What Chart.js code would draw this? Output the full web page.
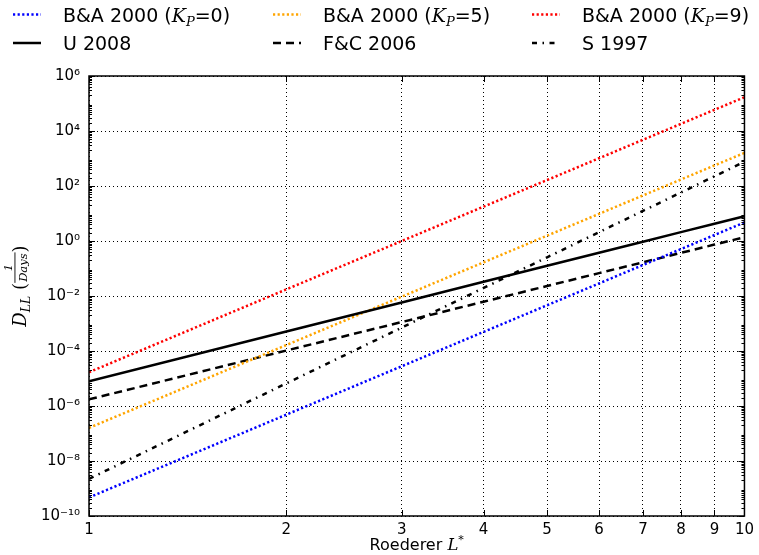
<!DOCTYPE html>
<html>
<head>
<meta charset="utf-8">
<script src="https://cdn.jsdelivr.net/npm/chart.js@4/dist/chart.umd.min.js"></script>
<style>
  html, body { margin: 0; padding: 0; background: #fff; }
  canvas { display: block; }
</style>
</head>
<body>
<canvas id="dll" width="759" height="555"></canvas>
<script>
// Roederer L* values where each curve was read
const lValues = [1, 2, 3, 4, 5, 6, 7, 8, 9, 10];

// D_LL (1/days)
const baKp0 = [4.73e-10, 4.84e-7, 2.79e-5, 4.96e-4, 4.62e-3, 2.86e-2, 0.134, 0.508, 1.65, 4.73];
const baKp5 = [1.60e-7, 1.64e-4, 9.47e-3, 0.168, 1.57, 9.69, 45.3, 172, 559, 1600];
const baKp9 = [1.69e-5, 1.74e-2, 1.00, 17.8, 165, 1020, 4790, 1.82e4, 5.91e4, 1.69e5];
const u2008 = [8.0e-6, 5.12e-4, 5.83e-3, 3.28e-2, 0.125, 0.373, 0.941, 2.10, 4.25, 8.0];
const fc2006 = [1.74e-6, 1.04e-4, 1.13e-3, 6.19e-3, 2.31e-2, 6.78e-2, 0.168, 0.370, 0.741, 1.38];
const s1997 = [2.24e-9, 6.62e-6, 7.10e-4, 1.96e-2, 0.256, 2.10, 12.4, 57.9, 225, 759];

const seriesLabels = ["B&A 2000 (K_P=0)", "U 2008", "B&A 2000 (K_P=5)", "F&C 2006", "B&A 2000 (K_P=9)", "S 1997"];

const xTicks = [1, 2, 3, 4, 5, 6, 7, 8, 9, 10];
const yTicks = [1e-10, 1e-8, 1e-6, 1e-4, 1e-2, 1e0, 1e2, 1e4, 1e6];

const SANS = "'DejaVu Sans', sans-serif";
const SERIF = "'DejaVu Serif', serif";

const sup = { "-": "\u207B", "0": "\u2070", "1": "\u00B9", "2": "\u00B2", "3": "\u00B3", "4": "\u2074", "5": "\u2075", "6": "\u2076", "7": "\u2077", "8": "\u2078", "9": "\u2079" };
function powLabel(v) {
	let e = String(Math.round(Math.log10(v)));
	return "10" + e.split("").map(c => sup[c]).join("");
}

function pts(ys) {
	return lValues.map((l, i) => ({ x: l, y: ys[i] }));
}

function makeSet(label, ys, color, dash, width) {
	return {
		label: label,
		data: pts(ys),
		showLine: true,
		borderColor: color,
		backgroundColor: color,
		borderWidth: width,
		borderDash: dash,
		borderCapStyle: "butt",
		pointRadius: 0,
		tension: 0,
		fill: false
	};
}

const datasets = [
	makeSet(seriesLabels[0], baKp0, "#0000ff", [2.2, 2.4], 2.5),
	makeSet(seriesLabels[1], u2008, "#000000", [], 2.5),
	makeSet(seriesLabels[2], baKp5, "#ffa500", [2.2, 2.4], 2.5),
	makeSet(seriesLabels[3], fc2006, "#000000", [8, 5], 2.5),
	makeSet(seriesLabels[4], baKp9, "#ff0000", [2.2, 2.4], 2.5),
	makeSet(seriesLabels[5], s1997, "#000000", [5, 5.5, 1.5, 5.5], 2.5)
];

// draw a run of text pieces with different fonts / offsets
function drawRich(ctx, x, base, parts, measureOnly) {
	let cx = x;
	for (const p of parts) {
		ctx.font = p.font;
		if (!measureOnly) ctx.fillText(p.t, cx, base + (p.dy || 0));
		cx += ctx.measureText(p.t).width;
	}
	return cx - x;
}

function labelParts(txt) {
	const font = "19px " + SANS;
	if (txt.indexOf("K_P") < 0) return [{ t: txt, font: font }];
	const bits = txt.split("K_P");
	return [
		{ t: bits[0], font: font },
		{ t: "K", font: "italic 19px " + SERIF },
		{ t: "P", font: "italic 13px " + SERIF, dy: 4 },
		{ t: bits[1], font: font }
	];
}

const decor = {
	id: "decor",
	afterDraw(chart) {
		const ctx = chart.ctx;
		const a = chart.chartArea;
		const xs = chart.scales.x, ys = chart.scales.y;
		ctx.save();

		// inward ticks
		ctx.strokeStyle = "#000";
		ctx.lineWidth = 1;
		ctx.setLineDash([]);
		ctx.beginPath();
		yTicks.forEach(v => {
			const p = Math.round(ys.getPixelForValue(v)) + 0.5;
			ctx.moveTo(a.left, p); ctx.lineTo(a.left + 6, p);
			ctx.moveTo(a.right, p); ctx.lineTo(a.right - 6, p);
		});
		for (let k = -10; k < 6; k++) {
			for (let m = 2; m < 10; m++) {
				const p = Math.round(ys.getPixelForValue(m * Math.pow(10, k))) + 0.5;
				ctx.moveTo(a.left, p); ctx.lineTo(a.left + 3, p);
				ctx.moveTo(a.right, p); ctx.lineTo(a.right - 3, p);
			}
		}
		xTicks.forEach(v => {
			const p = Math.round(xs.getPixelForValue(v)) + 0.5;
			ctx.moveTo(p, a.bottom); ctx.lineTo(p, a.bottom - 6);
			ctx.moveTo(p, a.top); ctx.lineTo(p, a.top + 6);
		});
		ctx.stroke();

		// frame
		ctx.lineWidth = 1.5;
		ctx.strokeRect(a.left, a.top, a.right - a.left, a.bottom - a.top);

		// legend, 3 columns x 2 rows
		const colX = [13, 273, 532];
		const rowY = [14.5, 43];
		ctx.fillStyle = "#000";
		ctx.textBaseline = "alphabetic";
		ctx.textAlign = "left";
		chart.data.datasets.forEach((ds, i) => {
			const col = Math.floor(i / 2), row = i % 2;
			const x0 = colX[col], y0 = rowY[row];
			ctx.save();
			ctx.strokeStyle = ds.borderColor;
			ctx.lineWidth = ds.borderWidth;
			ctx.setLineDash(ds.borderDash);
			ctx.beginPath();
			ctx.moveTo(x0, y0);
			ctx.lineTo(x0 + 28, y0);
			ctx.stroke();
			ctx.restore();
			drawRich(ctx, x0 + 50, y0 + 7, labelParts(ds.label));
		});

		// x title
		const xParts = [
			{ t: "Roederer ", font: "16px " + SANS },
			{ t: "L", font: "italic 16.5px " + SERIF },
			{ t: "*", font: "11px " + SERIF, dy: -7 }
		];
		const xw = drawRich(ctx, 0, 0, xParts, true);
		drawRich(ctx, (a.left + a.right) / 2 - xw / 2, 550, xParts);

		// y title: D_LL (1/Days), rotated
		ctx.save();
		ctx.translate(19, (a.top + a.bottom) / 2 - 10);
		ctx.rotate(-Math.PI / 2);
		const fracFont = "italic 11.5px " + SERIF;
		ctx.font = fracFont;
		const fw = ctx.measureText("Days").width + 2;
		const head = [
			{ t: "D", font: "italic 18px " + SERIF },
			{ t: "LL", font: "italic 12.5px " + SERIF, dy: 3.5 },
			{ t: " (", font: "18px " + SERIF }
		];
		const hw = drawRich(ctx, 0, 0, head, true);
		ctx.font = "18px " + SERIF;
		const pw = ctx.measureText(")").width;
		const total = hw + fw + pw;
		let sx = -total / 2;
		drawRich(ctx, sx, 7, head);
		sx += hw;
		ctx.font = fracFont;
		ctx.textAlign = "center";
		ctx.fillText("1", sx + fw / 2, -7);
		ctx.fillText("Days", sx + fw / 2, 8);
		ctx.fillRect(sx, -4.5, fw, 0.9);
		ctx.textAlign = "left";
		ctx.font = "18px " + SERIF;
		ctx.fillText(")", sx + fw, 7);
		ctx.restore();

		ctx.restore();
	}
};

const ctx = document.getElementById("dll").getContext("2d");
const chart = new Chart(ctx, {
	type: "scatter",
	data: { datasets: datasets },
	options: {
		responsive: false,
		animation: false,
		events: [],
		layout: { padding: { top: 76, right: 12, left: 0, bottom: 0 } },
		plugins: {
			legend: { display: false },
			tooltip: { enabled: false }
		},
		scales: {
			x: {
				type: "logarithmic",
				min: 1,
				max: 10,
				afterBuildTicks: s => { s.ticks = xTicks.map(v => ({ value: v })); },
				afterFit: s => { s.height = 39; },
				ticks: {
					autoSkip: false,
					maxRotation: 0,
					color: "#000",
					padding: 5,
					font: { family: SANS, size: 15 },
					callback: v => String(v)
				},
				grid: { color: "#000", lineWidth: 1, drawTicks: false },
				border: { display: false, dash: [1, 3] }
			},
			y: {
				type: "logarithmic",
				min: 1e-10,
				max: 1e6,
				afterBuildTicks: s => { s.ticks = yTicks.map(v => ({ value: v })); },
				afterFit: s => { s.width = 89; },
				ticks: {
					autoSkip: false,
					color: "#000",
					padding: 9,
					font: { family: SANS, size: 15 },
					callback: v => powLabel(v)
				},
				grid: { color: "#000", lineWidth: 1, drawTicks: false },
				border: { display: false, dash: [1, 3] }
			}
		}
	},
	plugins: [decor]
});
</script>
</body>
</html>
